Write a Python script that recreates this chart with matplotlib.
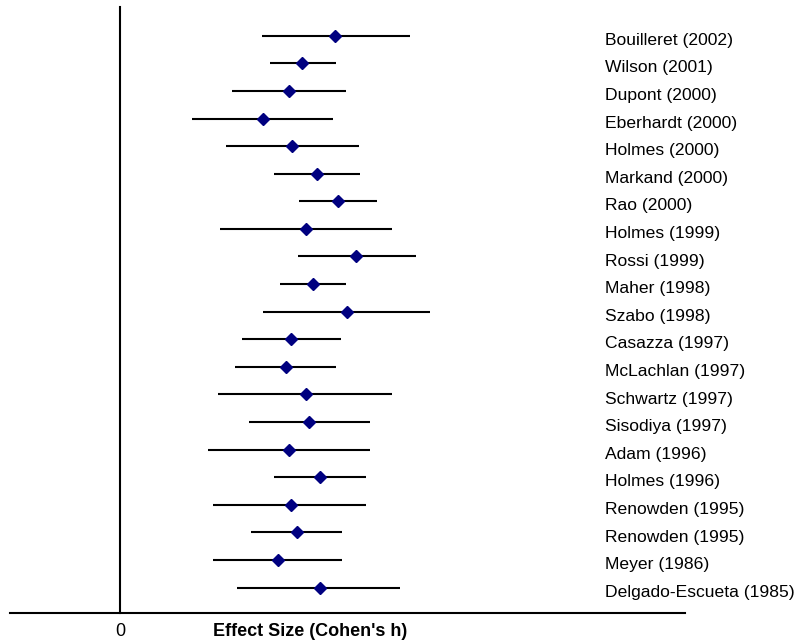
import matplotlib
matplotlib.use("Agg")
import matplotlib.pyplot as plt
import numpy as np

# études (du haut vers le bas)
studies = ["Bouilleret (2002)", "Wilson (2001)", "Dupont (2000)", "Eberhardt (2000)",
           "Holmes (2000)", "Markand (2000)", "Rao (2000)", "Holmes (1999)",
           "Rossi (1999)", "Maher (1998)", "Szabo (1998)", "Casazza (1997)",
           "McLachlan (1997)", "Schwartz (1997)", "Sisodiya (1997)", "Adam (1996)",
           "Holmes (1996)", "Renowden (1995)", "Renowden (1995)", "Meyer (1986)",
           "Delgado-Escueta (1985)"]

# effet estimé et intervalle de confiance (Cohen's h)
effect = [0.538, 0.456, 0.423, 0.357, 0.430, 0.493, 0.545, 0.464, 0.590, 0.482,
          0.568, 0.428, 0.415, 0.464, 0.473, 0.423, 0.500, 0.427, 0.443, 0.394,
          0.500]
ci_low = [0.354, 0.374, 0.279, 0.179, 0.264, 0.384, 0.448, 0.249, 0.444, 0.399,
          0.358, 0.304, 0.288, 0.244, 0.323, 0.219, 0.384, 0.233, 0.328, 0.233,
          0.293]
ci_high = [0.726, 0.541, 0.566, 0.532, 0.597, 0.601, 0.642, 0.681, 0.741, 0.566,
           0.776, 0.552, 0.541, 0.681, 0.626, 0.626, 0.616, 0.616, 0.556, 0.556,
           0.701]

plt.rcParams['font.family'] = ['Liberation Sans', 'DejaVu Sans']

fig = plt.figure(figsize=(7.95, 6.44), dpi=100)
ax = fig.add_axes([10 / 795, 31 / 644, 675 / 795, 606 / 644])

y = np.arange(len(studies))
ax.hlines(y, ci_low, ci_high, color="black", linewidth=1.5)
ax.plot(effect, y, linestyle="none", marker="D", markersize=5.8,
        color="#000080")

# noms des études à droite, légèrement sous la ligne
for yi, name in zip(y, studies):
    ax.text(1.2125, yi + 0.33, name, fontsize=12.6, va="baseline", ha="left")

ax.set_xlim(-0.275, 1.4125)
ax.set_ylim(20.917, -1.04)

ax.spines["top"].set_visible(False)
ax.spines["right"].set_visible(False)
ax.spines["left"].set_position(("data", 0))
ax.spines["left"].set_linewidth(1.5)
ax.spines["bottom"].set_linewidth(1.5)

ax.set_yticks([])
ax.set_xticks([0])
ax.set_xticklabels(["0"])
ax.tick_params(axis="x", length=0, labelsize=13, pad=7)

ax.set_xlabel("Effect Size (Cohen's h)", fontsize=13, fontweight="bold")
ax.xaxis.set_label_coords(0.444, -0.0165)

fig.savefig("out.png", dpi=100)
